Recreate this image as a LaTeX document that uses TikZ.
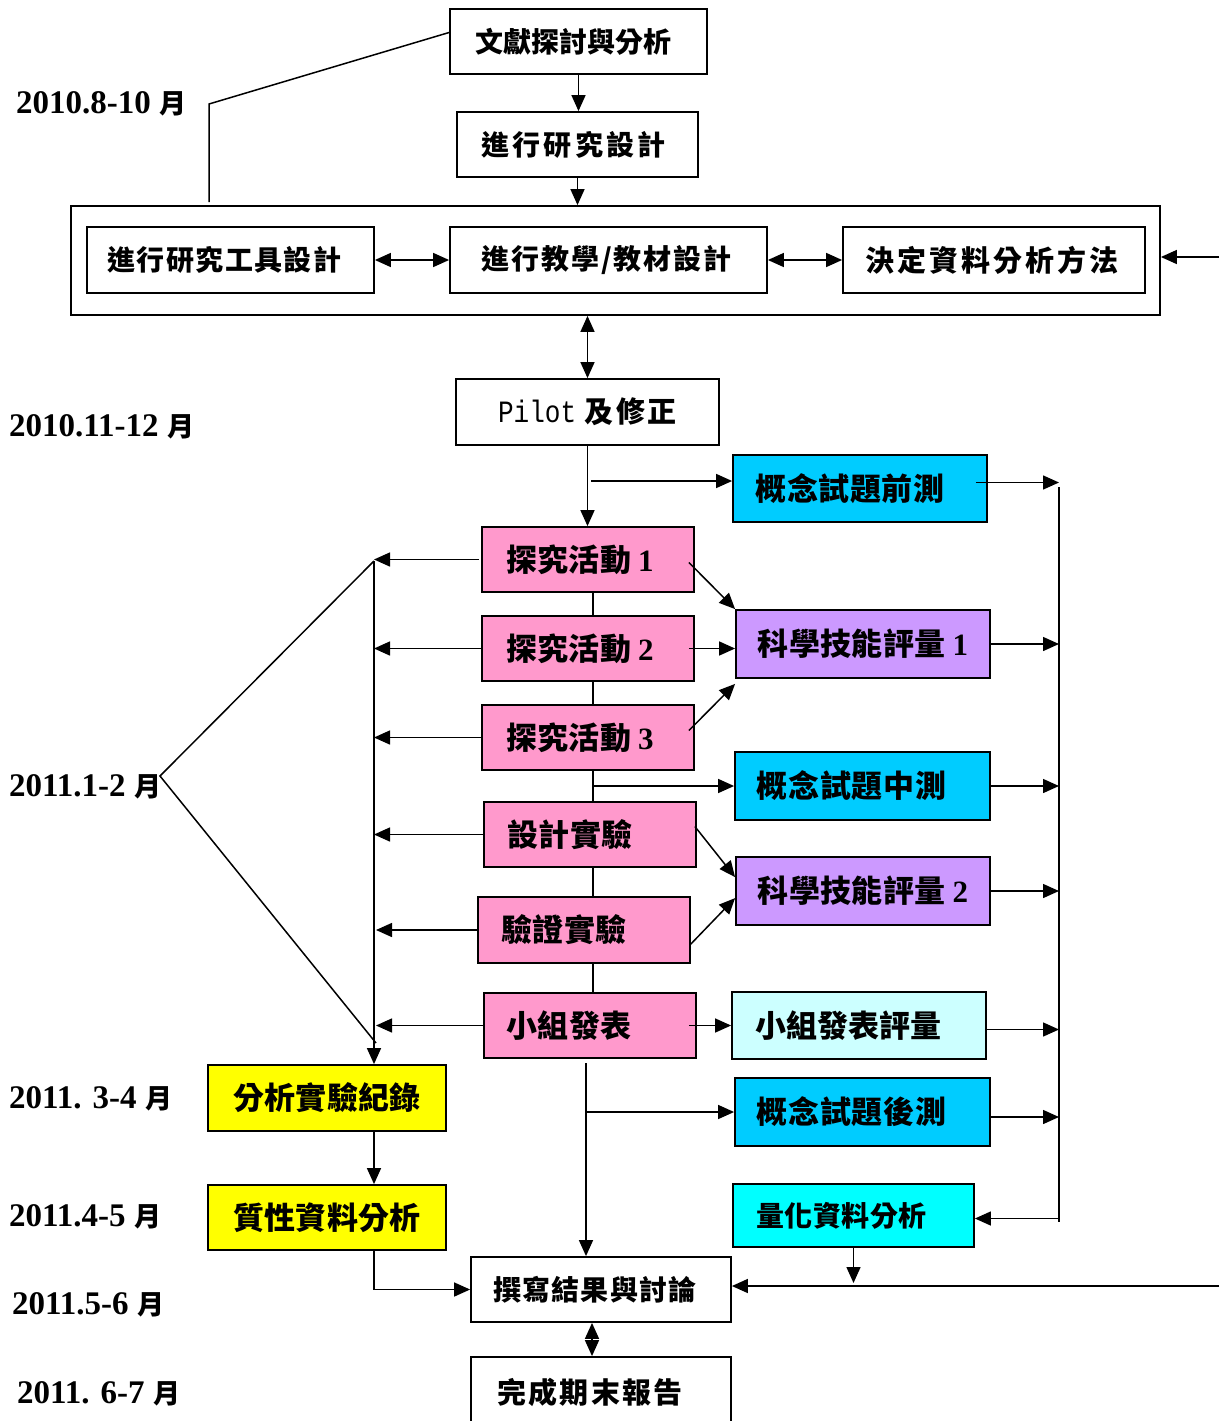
\documentclass[tikz,border=0pt]{standalone}
\usepackage{fontspec}
\setmainfont{Liberation Serif}
\newfontfamily\cjk{Noto Sans CJK TC}
\newfontfamily\monof{Liberation Mono}[FakeStretch=0.84]
\usetikzlibrary{arrows.meta}
\newcommand\cjs[3]{{\fontsize{#1pt}{#1pt}\selectfont\cjk\bfseries\addfontfeature{LetterSpace=#2}#3}}
\newcommand\dig[1]{\hspace{7pt}{\fontsize{31pt}{31pt}\selectfont\bfseries #1}}
\newcommand\dlab[1]{{\fontsize{33pt}{33pt}\selectfont\bfseries #1}\hspace{9pt}{\fontsize{27pt}{27pt}\selectfont\cjk\bfseries 月}}
\newcommand\lsh[1]{\hspace*{-#1pt}}
\definecolor{pinkc}{HTML}{FF99CC}
\definecolor{purpc}{HTML}{CC99FF}
\definecolor{bluec}{HTML}{00CCFF}
\definecolor{lcyanc}{HTML}{CCFFFF}
\definecolor{cyanc}{HTML}{00FFFF}
\definecolor{yellc}{HTML}{FFFF00}
\begin{document}
\begin{tikzpicture}[x=1pt,y=-1pt,
  box/.style={draw, line width=1.8pt, inner sep=0pt, anchor=center},
  pinkbox/.style={box, fill=pinkc, minimum width=212pt, minimum height=65pt},
  arr/.style={-{Triangle[length=16pt,width=14pt]}, line width=1.5pt},
  darr/.style={{Triangle[length=16pt,width=14pt]}-{Triangle[length=16pt,width=14pt]}, line width=1.5pt},
  ln/.style={line width=1.5pt},
  datel/.style={anchor=west, inner sep=0pt}]
\useasboundingbox (0,0) rectangle (1219,1421);

% top part
\node[box, minimum width=257pt, minimum height=65pt] (A) at (578.5,41.5) {\lsh{10}\cjs{28}{0}{文獻探討與分析}};
\node[box, minimum width=241pt, minimum height=65pt] (B) at (577.5,144.5) {\lsh{8}\cjs{28}{12}{進行研究設計}};
\node[box, minimum width=1089pt, minimum height=109pt] (O) at (615.5,260.5) {};
\node[box, minimum width=287pt, minimum height=66pt] (C) at (230.5,260) {\lsh{12}\cjs{28}{5}{進行研究工具設計}};
\node[box, minimum width=317pt, minimum height=66pt] (D) at (608.5,260) {\lsh{4}\cjs{28}{7}{進行教學/教材設計}};
\node[box, minimum width=302pt, minimum height=66pt] (E) at (994,260) {\lsh{4}\cjs{29}{10}{決定資料分析方法}};
\node[box, minimum width=263pt, minimum height=66pt] (P) at (587.5,412) {{\fontsize{31pt}{31pt}\selectfont\monof Pilot}\hspace{8pt}\cjs{29}{10}{及修正}};

% colored right boxes
\node[box, fill=bluec, minimum width=254pt, minimum height=67pt] (Pre) at (860,488.5) {\lsh{20}\cjs{31}{2}{概念試題前測}};
\node[box, fill=purpc, minimum width=254pt, minimum height=68pt] (S1) at (863,644) {\cjs{31}{1}{科學技能評量}\dig{1}};
\node[box, fill=bluec, minimum width=255pt, minimum height=68pt] (Mid) at (862.5,786) {\lsh{22}\cjs{31}{2}{概念試題中測}};
\node[box, fill=purpc, minimum width=254pt, minimum height=68pt] (S2) at (863,891) {\cjs{31}{1}{科學技能評量}\dig{2}};
\node[box, fill=lcyanc, minimum width=254pt, minimum height=67pt] (PE) at (859,1025.5) {\lsh{22}\cjs{31}{0}{小組發表評量}};
\node[box, fill=bluec, minimum width=255pt, minimum height=68pt] (Post) at (862.5,1112) {\lsh{22}\cjs{31}{2}{概念試題後測}};
\node[box, fill=cyanc, minimum width=241pt, minimum height=63pt] (Q) at (853.5,1215.5) {\lsh{24}\cjs{28}{2}{量化資料分析}};

% pink activities
\node[pinkbox] (a1) at (588,559.5) {\lsh{16}\cjs{31}{1}{探究活動}\dig{1}};
\node[pinkbox] (a2) at (588,648.5) {\lsh{16}\cjs{31}{1}{探究活動}\dig{2}};
\node[pinkbox] (a3) at (588,737.5) {\lsh{16}\cjs{31}{1}{探究活動}\dig{3}};
\node[pinkbox] (De) at (590,834.5) {\lsh{40}\cjs{31}{1}{設計實驗}};
\node[pinkbox, minimum height=66pt] (Ve) at (584,930) {\lsh{40}\cjs{31}{1}{驗證實驗}};
\node[pinkbox] (Pr) at (590,1025.5) {\lsh{42}\cjs{31}{1}{小組發表}};

% yellow
\node[box, fill=yellc, minimum width=238pt, minimum height=66pt] (An) at (327,1098) {\cjs{31}{1}{分析實驗紀錄}};
\node[box, fill=yellc, minimum width=238pt, minimum height=65pt] (Ql) at (327,1217.5) {\cjs{31}{1}{質性資料分析}};

% bottom
\node[box, minimum width=260pt, minimum height=65pt] (W) at (601,1289.5) {\lsh{12}\cjs{28}{4}{撰寫結果與討論}};
\node[box, minimum width=260pt, minimum height=70pt] (F) at (601,1392) {\lsh{22}\cjs{29}{7}{完成期末報告}};

% date labels
\node[datel] (d1) at (16,104) {\dlab{2010.8-10}};
\node[datel] (d2) at (9,427) {\dlab{2010.11-12}};
\node[datel] (d3) at (9,787) {\dlab{2011.1-2}};
\node[datel] (d4) at (9,1099) {\dlab{2011. 3-4}};
\node[datel] (d5) at (9,1217) {\dlab{2011.4-5}};
\node[datel] (d6) at (12,1305) {\dlab{2011.5-6}};
\node[datel] (d7) at (17,1394) {\dlab{2011. 6-7}};

% helper coordinates
\coordinate (col) at (593,0);
\coordinate (lb) at (374,561);
\coordinate (lbb) at (376,1043);
\coordinate (vx) at (160,776);
\coordinate (rb) at (1059,487);
\coordinate (rbb) at (1059,1222);
\coordinate (c3) at (586,1063);
\coordinate (rin) at (1219,257);
\coordinate (rin2) at (1219,1286);
\coordinate (bk1) at (209,104);
\coordinate (bk2) at (209,202);
\coordinate (j1) at (591,481);

% top connectors
\draw[ln] ([yshift=9pt]A.west) -- (bk1) -- (bk2);
\draw[arr] (A.south) -- (A.south |- B.north);
\draw[arr] (B.south) -- (B.south |- O.north);
\draw[darr] (C.east) -- (D.west);
\draw[darr] (D.east) -- (E.west);
\draw[arr] (rin) -- (rin -| O.east);
\draw[darr] (P.north |- O.south) -- (P.north);
\draw[arr] (P.south) -- (P.south |- a1.north);
\draw[arr] (j1) -- (j1 -| Pre.west);

% pink chain
\draw[ln] (a1.south -| col) -- (a2.north -| col);
\draw[ln] (a2.south -| col) -- (a3.north -| col);
\draw[ln] (a3.south -| col) -- (De.north -| col);
\draw[ln] (De.south -| col) -- (Ve.north -| col);
\draw[ln] (Ve.south -| col) -- (Pr.north -| col);
\draw[arr] (Mid.west -| col) -- (Mid.west);

% to skill boxes
\draw[arr] ([xshift=-6pt,yshift=-3pt]a1.east) -- (S1.north west);
\draw[arr] ([xshift=-6pt]a2.east) -- (a2.east -| S1.west);
\draw[arr] ([xshift=-6pt,yshift=7pt]a3.east) -- ([yshift=-5pt]S1.south west);
\draw[arr] ([xshift=-2pt,yshift=8pt]De.east) -- ([yshift=-21pt]S2.north west);
\draw[arr] ([xshift=-1pt,yshift=-15pt]Ve.east) -- ([yshift=-42pt]S2.north west);
\draw[arr] ([xshift=-8pt]Pr.east) -- (PE.west);

% right bus
\draw[ln] (rb) -- (rbb);
\draw[arr] ([xshift=-12pt,yshift=6pt]Pre.east) -- ([yshift=6pt]Pre.east -| rb);
\draw[arr] (S1.east) -- (S1.east -| rb);
\draw[arr] (Mid.east) -- (Mid.east -| rb);
\draw[arr] (S2.east) -- (S2.east -| rb);
\draw[arr] ([xshift=-2pt,yshift=-4pt]PE.east) -- ([yshift=-4pt]PE.east -| rb);
\draw[arr] ([yshift=-5pt]Post.east) -- ([yshift=-5pt]Post.east -| rb);
\draw[arr] ([yshift=-3pt]Q.east -| rb) -- ([yshift=-3pt]Q.east);

% left bus
\draw[arr] ([xshift=-2pt]a1.west) -- (a1.west -| lb);
\draw[arr] (a2.west) -- (a2.west -| lb);
\draw[arr] (a3.west) -- (a3.west -| lb);
\draw[arr] (De.west) -- (De.west -| lb);
\draw[arr] (Ve.west) -- ([xshift=2pt]Ve.west -| lb);
\draw[arr] (Pr.west) -- ([xshift=2pt]Pr.west -| lb);
\draw[arr] (lb) -- (lb |- An.north);
\draw[ln] (lb) -- (vx) -- (lbb);

% lower flow
\draw[arr] (An.south -| lb) -- (Ql.north -| lb);
\draw[arr] (Ql.south -| lb) |- (W.west);
\draw[arr] (c3) -- (W.north -| c3);
\draw[arr] (Post.west -| c3) -- (Post.west);
\draw[arr] (Q.south) -- ([yshift=3pt]Q.south |- rin2);
\draw[arr] (rin2) -- (rin2 -| W.east);
\draw[darr] ([xshift=-9pt]W.south) -- ([xshift=-9pt]F.north);
\end{tikzpicture}
\end{document}
